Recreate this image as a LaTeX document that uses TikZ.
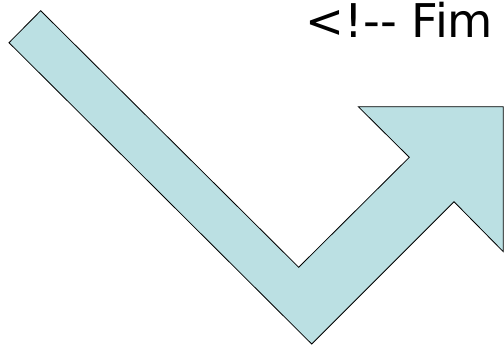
\documentclass[tikz,border=0pt]{standalone}
\usepackage{fontspec}
\setmainfont{DejaVu Sans}
\usetikzlibrary{positioning}
\definecolor{arrowfill}{RGB}{187,224,227}

\begin{document}
\begin{tikzpicture}[
    x=1pt, y=-1pt,
    bentarrow/.style={draw=black, line width=0.8pt, fill=arrowfill, line join=miter},
    caption/.style={anchor=base west, inner sep=0pt, font=\fontsize{46.5}{52}\selectfont}
]
\useasboundingbox (0,0) rectangle (504,346);

% Arrow outline (tail top-left, head cut at the right edge)
\draw[bentarrow] (40.7,10.7) -- (298.7,267.3) -- (409.3,157.3) -- (358.3,106.7)
    -- (503.3,106.7) -- (503.3,251.7) -- (454,201.7) -- (311.7,344) -- (9,42.7) -- cycle;

% Text top right
\node[caption] (fim) at (305.5,37) {<!-\mbox{}- Fim};

\end{tikzpicture}
\end{document}
